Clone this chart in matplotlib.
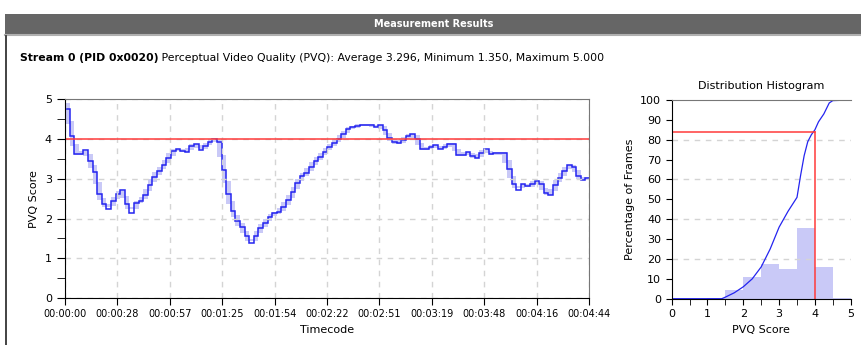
import numpy as np
import matplotlib.pyplot as plt
from matplotlib.patches import Rectangle
from matplotlib.lines import Line2D

plt.rcParams["font.family"] = ["DejaVu Sans"]

# PVQ score per 2.5 s interval
step_sec = 2.5
duration = 284.5
pvq = [4.75, 4.09, 3.63, 3.63, 3.73, 3.46, 3.17, 2.61, 2.38, 2.25,
       2.44, 2.61, 2.72, 2.38, 2.15, 2.39, 2.45, 2.60, 2.85, 3.06,
       3.21, 3.35, 3.52, 3.70, 3.75, 3.71, 3.69, 3.83, 3.89, 3.74,
       3.83, 3.94, 4.00, 3.92, 3.22, 2.62, 2.20, 1.93, 1.78, 1.55,
       1.38, 1.55, 1.76, 1.89, 2.05, 2.13, 2.16, 2.30, 2.46, 2.66,
       2.89, 3.07, 3.16, 3.31, 3.46, 3.56, 3.69, 3.81, 3.91, 4.01,
       4.12, 4.25, 4.30, 4.33, 4.37, 4.36, 4.37, 4.30, 4.36, 4.23,
       4.02, 3.94, 3.90, 3.98, 4.07, 4.14, 4.00, 3.75, 3.75, 3.80,
       3.86, 3.75, 3.80, 3.88, 3.87, 3.60, 3.60, 3.68, 3.58, 3.52,
       3.66, 3.75, 3.62, 3.64, 3.64, 3.64, 3.24, 2.86, 2.72, 2.86,
       2.81, 2.86, 2.95, 2.86, 2.64, 2.59, 2.85, 3.03, 3.20, 3.35,
       3.31, 3.08, 2.97, 3.03]
pvq_max = 5.000
threshold = 4.0

tick_secs = [i * duration / 10 for i in range(11)]
tick_labels = ["00:00:00", "00:00:28", "00:00:57", "00:01:25", "00:01:54",
               "00:02:22", "00:02:51", "00:03:19", "00:03:48", "00:04:16",
               "00:04:44"]

# distribution histogram (0.5 wide bins) and cumulative curve
bin_left = [0.0, 0.5, 1.0, 1.5, 2.0, 2.5, 3.0, 3.5, 4.0, 4.5]
hist_pct = [0.0, 0.0, 0.5, 4.5, 11.0, 17.5, 15.0, 35.5, 16.0, 0.4]
cdf_score = [0, 1.4, 1.5, 1.75, 2.0, 2.25, 2.5, 2.75, 3.0, 3.25, 3.5, 3.6,
             3.7, 3.8, 3.9, 4.0, 4.1, 4.25, 4.4, 4.5, 5.0]
cdf_pct = [0, 0, 0.8, 3, 6, 10, 16, 25, 36, 44, 51, 62, 72, 79, 82.5, 85,
           89, 93, 98.5, 99.7, 100]

line_col = "#2424f0"
shade_col = "#c9c9f7"
red_col = "#ff3b3b"
grid_col = "#d4d4d4"

fig = plt.figure(figsize=(8.62, 3.45), dpi=100)

# header bar
fig.patches.append(Rectangle((5 / 862, 1 - 34 / 345), 857 / 862, 20 / 345,
                             transform=fig.transFigure, facecolor="#666666",
                             edgecolor="none"))
fig.lines.append(Line2D([5 / 862, 1], [1 - 35 / 345] * 2, transform=fig.transFigure,
                        color="#b0b0b0", lw=1.5))
fig.lines.append(Line2D([6 / 862] * 2, [0, 1 - 36 / 345], transform=fig.transFigure,
                        color="#222222", lw=1.2))
fig.text(434 / 862, 1 - 24 / 345, "Measurement Results", color="white",
         fontsize=7, fontweight="bold", ha="center", va="center")

# main time series
ax = fig.add_axes([65 / 862, 1 - 298 / 345, 524 / 862, 198.5 / 345])
v = np.array(pvq)
edges = np.append(np.arange(len(v)) * step_sec, duration)
prev = np.concatenate([[pvq_max], v[:-1]])
nxt = np.concatenate([v[1:], [v[-1]]])
lo = np.minimum((prev + v) / 2, (v + nxt) / 2) - 0.03
hi = np.maximum((prev + v) / 2, (v + nxt) / 2) + 0.03
ax.bar(edges[:-1], hi - lo, bottom=lo, width=np.diff(edges), align="edge",
       color=shade_col, linewidth=0)
ax.stairs(v, edges, baseline=None, color=line_col, lw=1.1)
ax.axhline(threshold, color=red_col, lw=1.1)

ax.set_xlim(0, duration)
ax.set_ylim(0, 5)
ax.set_xticks(tick_secs)
ax.set_xticklabels(tick_labels, fontsize=7)
ax.set_yticks(range(6))
ax.set_yticks(np.arange(0.5, 5, 1), minor=True)
ax.tick_params(axis="y", which="both", length=6, labelsize=8)
ax.tick_params(axis="x", length=5, labelsize=7, pad=3)
ax.grid(True, ls=(0, (4, 4)), color=grid_col, lw=1)
for s in ["top", "right"]:
    ax.spines[s].set_color("#777777")
ax.set_xlabel("Timecode", fontsize=8)
ax.set_ylabel("PVQ Score", fontsize=8)

# stream summary line
t1 = fig.text(20 / 862, 1 - 58 / 345, "Stream 0 (PID 0x0020)", fontsize=7.8,
              fontweight="bold", va="center")
ax.annotate(" Perceptual Video Quality (PVQ): Average 3.296, Minimum 1.350, "
            "Maximum 5.000", xy=(1, 0), xycoords=t1, va="bottom", fontsize=7.8,
            annotation_clip=False)

# distribution histogram
ax2 = fig.add_axes([671.7 / 862, 1 - 298.7 / 345, 179 / 862, 198.7 / 345])
ax2.bar(bin_left, hist_pct, width=0.5, align="edge", color=shade_col, linewidth=0)
for g in [20, 40, 60, 80]:
    ax2.axhline(g, color=grid_col, ls=(0, (4, 4)), lw=1)
ax2.plot(cdf_score, cdf_pct, color=line_col, lw=0.9)
below = sum(h for b, h in zip(bin_left, hist_pct) if b < threshold)
ax2.plot([0, threshold], [below, below], color=red_col, lw=1.1)
ax2.plot([threshold, threshold], [0, below], color=red_col, lw=1.1)
ax2.set_xlim(0, 5)
ax2.set_ylim(0, 100)
ax2.set_xticks(range(6))
ax2.set_xticks(np.arange(0.5, 5, 1), minor=True)
ax2.set_yticks(range(0, 101, 10))
ax2.tick_params(axis="both", which="both", length=4, labelsize=8)
ax2.spines["top"].set_color("#777777")
ax2.spines["right"].set_visible(False)
ax2.set_title("Distribution Histogram", fontsize=8, pad=8)
ax2.set_xlabel("PVQ Score", fontsize=8)
ax2.set_ylabel("Percentage of Frames", fontsize=8)

fig.savefig("out.png", dpi=100)
